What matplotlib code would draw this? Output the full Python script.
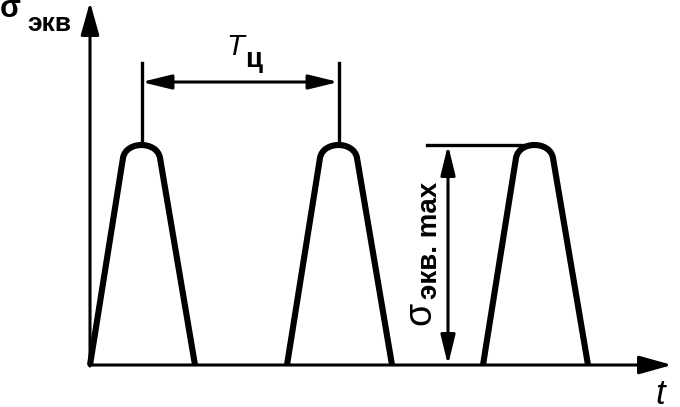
import matplotlib.pyplot as plt
from matplotlib.path import Path
from matplotlib.patches import PathPatch

plt.rcParams['font.family'] = ['Liberation Sans', 'DejaVu Sans']

# pulse data (px units, origin at axes crossing)
pulse_starts = [0, 197, 393]
rise_t = 33          # time to shoulder
top_w = 37           # width of rounded top
fall_t = 35          # fall time
shoulder_h = 207
sigma_max = 220
period_label = 'T'
period_sub = 'ц'

fig = plt.figure(figsize=(6.8, 4.07), dpi=100)
ax = fig.add_axes([0, 0, 1, 1])
ax.set_xlim(-90, 590)
ax.set_ylim(-42, 365)
ax.axis('off')

# pulses
for s in pulse_starts:
    x_l = s + rise_t
    x_r = x_l + top_w
    c = (4 * sigma_max - shoulder_h) / 3
    verts = [(s, 0), (x_l, shoulder_h),
             (x_l + 3, c), (x_r - 3, c), (x_r, shoulder_h),
             (x_r + fall_t, 0)]
    codes = [Path.MOVETO, Path.LINETO, Path.CURVE4, Path.CURVE4, Path.CURVE4, Path.LINETO]
    ax.add_patch(PathPatch(Path(verts, codes), fill=False, lw=4.4,
                           capstyle='butt', joinstyle='round', color='black'))

# axes with arrows
ax.annotate('', xy=(0, 363), xytext=(0, -1),
            arrowprops=dict(arrowstyle='-|>,head_length=1.0,head_width=0.28',
                            lw=2.2, color='black', mutation_scale=20,
                            shrinkA=0, shrinkB=0))
ax.annotate('', xy=(582, 0), xytext=(-1, 0),
            arrowprops=dict(arrowstyle='-|>,head_length=1.0,head_width=0.28',
                            lw=2.2, color='black', mutation_scale=20,
                            shrinkA=0, shrinkB=0))

# period dimension
p1 = pulse_starts[0] + rise_t + top_w / 2
p2 = pulse_starts[1] + rise_t + top_w / 2
for p in (p1, p2):
    ax.plot([p, p], [sigma_max, 302], color='black', lw=2.4)
ax.annotate('', xy=(p2, 283), xytext=(p1, 283),
            arrowprops=dict(arrowstyle='<|-|>,head_length=0.9,head_width=0.22',
                            lw=2.2, color='black', mutation_scale=20,
                            shrinkA=0, shrinkB=0))
ax.text(145, 310, period_label, fontsize=21, style='italic',
        ha='center', va='baseline')
ax.text(155, 298, period_sub, fontsize=20, fontweight='bold',
        ha='left', va='baseline')

# sigma max dimension
p3 = pulse_starts[2] + rise_t + top_w / 2
ax.plot([337, p3], [sigma_max, sigma_max], color='black', lw=2.4)
ax.annotate('', xy=(358, sigma_max), xytext=(358, 0),
            arrowprops=dict(arrowstyle='<|-|>,head_length=0.9,head_width=0.22',
                            lw=2.2, color='black', mutation_scale=20,
                            shrinkA=0, shrinkB=0))
ax.text(330, 52, 'σ', fontsize=27, rotation=90, ha='center', va='center')
ax.text(340, 125, 'экв. max', fontsize=20, fontweight='bold', rotation=90,
        ha='center', va='center')

# axis labels
ax.text(-90, 348, 'σ', fontsize=22, fontweight='bold', ha='left', va='baseline')
ax.text(-63, 334, 'экв', fontsize=19, fontweight='bold', ha='left', va='baseline')
ax.text(570, -39, 't', fontsize=25, style='italic', ha='center', va='baseline')

fig.savefig('out.png', dpi=100)
